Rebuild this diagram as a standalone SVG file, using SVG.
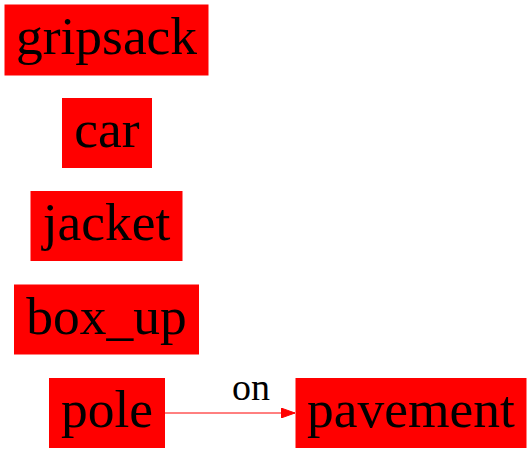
<svg xmlns="http://www.w3.org/2000/svg" width="531" height="453" viewBox="0 0 531 453">
<style>
.box{fill:#ff0000;stroke:#ff0000;stroke-width:1}
.lbl{font-family:"Liberation Serif","Times New Roman",serif;font-size:53.5px;text-anchor:middle;fill:#000}
.elbl{font-family:"Liberation Serif","Times New Roman",serif;font-size:38px;text-anchor:middle;fill:#000}
.edge{stroke:#ff0000;stroke-width:1;fill:none}
</style>
<defs>
<marker id="arr" markerWidth="14" markerHeight="10" refX="14" refY="5" orient="auto" markerUnits="userSpaceOnUse">
<polygon points="0,0 14,5 0,10" fill="#ff0000" stroke="#ff0000"/>
</marker>
</defs>
<g id="gripsack"><rect class="box" x="5" y="5" width="203" height="70"/><text class="lbl" x="106.5" y="54">gripsack</text></g>
<g id="car"><rect class="box" x="62.5" y="98.5" width="89" height="69"/><text class="lbl" x="107" y="147">car</text></g>
<g id="jacket"><rect class="box" x="31" y="191.5" width="151" height="69"/><text class="lbl" x="106.5" y="240">jacket</text></g>
<g id="box_up"><rect class="box" x="14.5" y="285" width="184" height="69"/><text class="lbl" x="106.5" y="333.5">box_up</text></g>
<g id="pole"><rect class="box" x="49.5" y="378.5" width="115" height="69"/><text class="lbl" x="107" y="427">pole</text></g>
<g id="pavement"><rect class="box" x="296" y="378.5" width="230" height="69"/><text class="lbl" x="411" y="427">pavement</text></g>
<g id="connectors">
<line class="edge" x1="164.5" y1="413" x2="295" y2="413" marker-end="url(#arr)"/>
<text class="elbl" x="251" y="400">on</text>
</g>
</svg>
